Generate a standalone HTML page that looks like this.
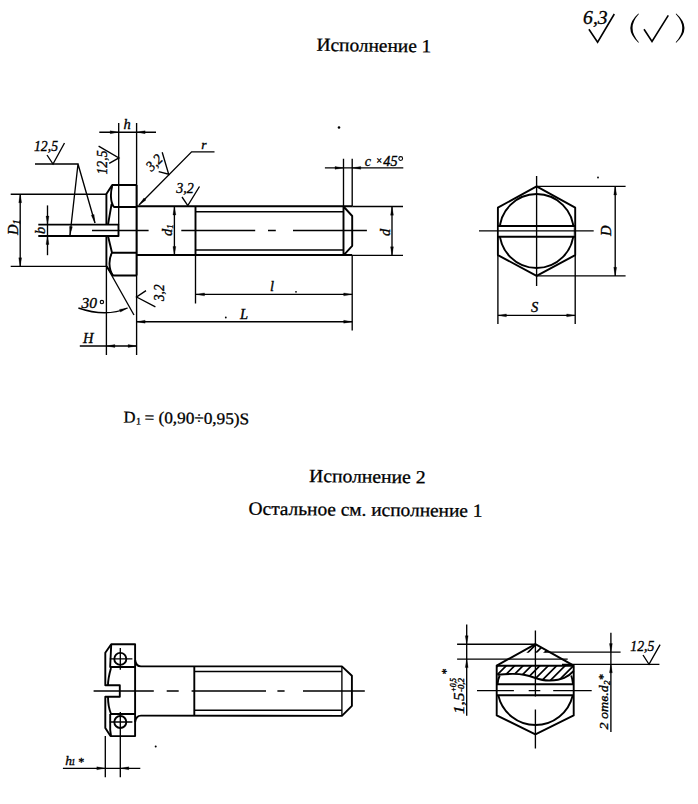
<!DOCTYPE html>
<html><head><meta charset="utf-8">
<style>
html,body{margin:0;padding:0;background:#fff;width:698px;height:804px;overflow:hidden}
svg{display:block}
.k{stroke:#000;fill:none;stroke-width:1.9;stroke-linejoin:round}
.n{stroke:#000;fill:none;stroke-width:1.35}
.h{stroke:#000;fill:none;stroke-width:1.7}
.ar{fill:#000;stroke:#000;stroke-width:0.3}
.tx{font-family:"Liberation Serif",serif;fill:#000;stroke:#000;stroke-width:0.3}
.it{font-family:"Liberation Serif",serif;font-style:italic;fill:#000;stroke:#000;stroke-width:0.35}
</style></head><body>
<svg width="698" height="804" viewBox="0 0 698 804">
<rect width="698" height="804" fill="#fff"/>
<text class="tx" transform="translate(316.5,50.8) rotate(0.8)" font-size="18.5" textLength="114.8" lengthAdjust="spacingAndGlyphs">Исполнение 1</text>
<text class="it" x="583.1" y="23.7" font-size="19" textLength="24.5" lengthAdjust="spacingAndGlyphs">6,3</text>
<path class="n" style="stroke-width:1.6" d="M588.9,29.2 L597.6,42.2 L614.3,14"/>
<path fill="#000" d="M638.4,13.6 Q622.2,28.15 638.4,42.7 L638.9,42.2 Q626.2,28.15 638.9,14.1 Z"/>
<path class="n" style="stroke-width:1.6" d="M644,29.3 L652,41.5 L668.3,15.4"/>
<path fill="#000" d="M676.2,13.6 Q692.8,28.15 676.2,42.7 L675.7,42.2 Q688.8,28.15 675.7,14.1 Z"/>
<text class="it" x="34" y="150.5" font-size="14.5" textLength="24" lengthAdjust="spacingAndGlyphs">12,5</text>
<path class="n" d="M47,155 L53,164 L64.5,143"/>
<path class="n" d="M35,164 L78,164 L70,235 M78,164 L95,223"/>
<path class="ar" d="M70.00,235.00 L69.51,226.39 L72.39,226.72 Z"/>
<path class="ar" d="M95.00,223.00 L91.25,215.23 L94.04,214.43 Z"/>
<path class="n" d="M10.7,194.2 L106.4,194.2 M10.7,266.3 L106.4,266.3 M20.2,194.2 L20.2,266.3"/>
<path class="ar" d="M20.20,194.20 L21.65,202.70 L18.75,202.70 Z"/>
<path class="ar" d="M20.20,266.30 L18.75,257.80 L21.65,257.80 Z"/>
<text class="it" font-size="14.5" transform="translate(18,235) rotate(-90)">D<tspan font-size="10" dy="1.5">1</tspan></text>
<path class="n" d="M47.5,205.4 L47.5,255.2"/>
<path class="ar" d="M47.50,224.60 L46.05,216.10 L48.95,216.10 Z"/>
<path class="ar" d="M47.50,236.00 L48.95,244.50 L46.05,244.50 Z"/>
<text class="it" font-size="14.5" transform="translate(45,234) rotate(-90)">b</text>
<path class="k" d="M38.3,224.6 L118.5,224.6 L118.5,236 L38.3,236"/>
<path class="n" d="M118.7,123 L118.7,224.6 M136.6,123 L136.6,355 M99.3,132.2 L156,132.2"/>
<path class="ar" d="M118.70,132.20 L110.20,133.65 L110.20,130.75 Z"/>
<path class="ar" d="M136.60,132.20 L145.10,130.75 L145.10,133.65 Z"/>
<text class="it" x="123.5" y="129" font-size="14.5">h</text>
<text class="it" font-size="14.5" transform="translate(106.5,174.5) rotate(-90)" textLength="24" lengthAdjust="spacingAndGlyphs">12,5</text>
<path class="n" d="M98.6,146.2 L118.9,157.9 L109.2,163.4"/>
<path class="k" d="M136.6,185 L112.2,185 L106.4,194 L106.4,224.6 M106.4,236 L106.4,266 L112.9,275.5 L136.6,275.5 M136.6,185 L136.6,275.5"/>
<path class="k" d="M112.2,186 C110.5,192 110,202 114,207 L136.6,207 M111.6,204 L108,224.6 M108,236 L112,252.8 L136.6,252.8 M112,252.8 C108.5,259 108.5,269 112.9,275.5"/>
<path class="n" d="M106.4,266 L106.4,355"/>
<path class="n" d="M139,205 L191.6,151.8 L214.5,151.8"/>
<path class="ar" d="M139.00,205.00 L143.95,197.94 L146.01,199.98 Z"/>
<text class="it" x="201.3" y="149.3" font-size="13.5">r</text>
<text class="it" font-size="14.5" transform="translate(151.5,172) rotate(-45)" textLength="17" lengthAdjust="spacingAndGlyphs">3,2</text>
<path class="n" d="M158.7,171.6 L168.7,174.2 L162.2,152.2"/>
<path class="k" d="M136.6,206.2 L352.2,206.2 M136.6,255 L352.2,255"/>
<path class="n" d="M352.2,206.5 L403,206.5 M352.2,255.3 L403,255.3"/>
<path class="k" d="M195.5,206 L195.5,255 M343.5,206.5 L343.5,255.5 M343.5,206.5 L352.2,216 L352.2,245.8 L343.5,255.3"/>
<path class="n" d="M195.5,211.7 L343.5,211.7 M195.5,250 L343.5,250"/>
<circle cx="339" cy="127.5" r="1.3" fill="#000"/>
<circle cx="296" cy="291.8" r="0.9" fill="#000"/><circle cx="225.8" cy="317.5" r="0.9" fill="#000"/><circle cx="598" cy="177.5" r="0.9" fill="#000"/><circle cx="155.7" cy="746.4" r="1" fill="#000"/>
<path class="n" d="M195.5,255 L195.5,303.4 M343.5,158.7 L343.5,206 M352.2,158.7 L352.2,206 M352.2,255 L352.2,330.4"/>
<text class="it" x="176.3" y="193.3" font-size="14.5" textLength="17.5" lengthAdjust="spacingAndGlyphs">3,2</text>
<path class="n" d="M182,197 L187.8,205.6 L199.5,186.5"/>
<path class="n" d="M174.4,206.5 L174.4,255"/>
<path class="ar" d="M174.40,206.50 L175.85,215.00 L172.95,215.00 Z"/>
<path class="ar" d="M174.40,255.00 L172.95,246.50 L175.85,246.50 Z"/>
<text class="it" font-size="14.5" transform="translate(172,236) rotate(-90)">d<tspan font-size="9" dy="1">1</tspan></text>
<path class="n" d="M92,230.5 L148.6,230.5 M181.3,230.5 L255.2,230.5 M268,230.5 L275.8,230.5 M293,230.5 L366.9,230.5"/>
<path class="n" d="M324.9,167.9 L403.3,167.9"/>
<path class="ar" d="M343.50,167.90 L335.00,169.35 L335.00,166.45 Z"/>
<path class="ar" d="M352.20,167.90 L360.70,166.45 L360.70,169.35 Z"/>
<text class="it" x="364.7" y="166" font-size="14">c</text>
<text class="it" x="375.8" y="163.5" font-size="10">×</text>
<text class="it" x="383.3" y="166" font-size="14" textLength="14.2" lengthAdjust="spacingAndGlyphs">45</text>
<circle cx="400.7" cy="158.5" r="1.9" fill="none" stroke="#000" stroke-width="1.05"/>
<path class="n" d="M392,206.7 L392,255.3"/>
<path class="ar" d="M392.00,206.70 L393.45,215.20 L390.55,215.20 Z"/>
<path class="ar" d="M392.00,255.30 L390.55,246.80 L393.45,246.80 Z"/>
<text class="it" font-size="14.5" transform="translate(390,236) rotate(-90)">d</text>
<path class="n" d="M196,294.4 L352.2,294.4 M136.6,321.7 L352.2,321.7"/>
<path class="ar" d="M196.00,294.40 L204.50,292.95 L204.50,295.85 Z"/>
<path class="ar" d="M352.20,294.40 L343.70,295.85 L343.70,292.95 Z"/>
<path class="ar" d="M136.60,321.70 L145.10,320.25 L145.10,323.15 Z"/>
<path class="ar" d="M352.20,321.70 L343.70,323.15 L343.70,320.25 Z"/>
<text class="it" x="270" y="291.4" font-size="14.5">l</text>
<text class="it" x="240" y="319.3" font-size="14.5">L</text>
<path class="n" d="M106.4,266 L134,315"/>
<path class="n" d="M78.4,308 Q106,317.6 127.5,308"/>
<path class="ar" d="M127.50,308.00 L120.48,312.08 L119.51,309.45 Z"/>
<text class="it" x="81.4" y="308.3" font-size="15.5" textLength="15.5" lengthAdjust="spacingAndGlyphs">30</text>
<circle cx="101.9" cy="302.1" r="1.7" fill="none" stroke="#000" stroke-width="1.1"/>
<path class="n" d="M146,290.6 L136.6,297 L155.4,306.8"/>
<text class="it" font-size="14.5" transform="translate(163.8,301) rotate(-90)" textLength="16.5" lengthAdjust="spacingAndGlyphs">3,2</text>
<path class="n" d="M79.8,346 L136.6,346"/>
<path class="ar" d="M106.40,346.00 L114.90,344.55 L114.90,347.45 Z"/>
<path class="ar" d="M136.60,346.00 L128.10,347.45 L128.10,344.55 Z"/>
<text class="it" x="83" y="343.2" font-size="14.5">H</text>
<path class="k" d="M536.6,186.4 L575.2,207.7 L575.2,255.1 L536.6,275.8 L497.9,255.1 L497.9,207.7 Z"/>
<circle class="k" cx="536.6" cy="231" r="37"/>
<rect x="498.8" y="226" width="75" height="10.8" fill="#fff"/>
<path class="k" d="M497.9,226 L575.2,226 M497.9,236.8 L575.2,236.8"/>
<path class="n" d="M479,230.8 L593.7,230.8 M536.6,176 L536.6,286"/>
<path class="n" d="M497.9,255 L497.9,323.9 M575.2,255 L575.2,323.9 M497.9,315.4 L575.2,315.4"/>
<path class="ar" d="M497.90,315.40 L506.40,313.95 L506.40,316.85 Z"/>
<path class="ar" d="M575.20,315.40 L566.70,316.85 L566.70,313.95 Z"/>
<path class="n" d="M536.6,186.4 L625.6,186.4 M536.6,275.8 L625.6,275.8 M615.2,186.4 L615.2,275.8"/>
<path class="ar" d="M615.20,186.40 L616.65,194.90 L613.75,194.90 Z"/>
<path class="ar" d="M615.20,275.80 L613.75,267.30 L616.65,267.30 Z"/>
<text class="it" x="531" y="312.4" font-size="14.5">S</text>
<text class="it" font-size="14.5" transform="translate(611,236) rotate(-90)">D</text>
<g transform="translate(123.5,422.6) rotate(0.8)">
<text class="tx" x="0" y="0" font-size="16.5">D</text>
<text class="tx" x="12.6" y="1.6" font-size="10">1</text>
<text class="tx" x="21" y="0" font-size="16.5" textLength="104.5" lengthAdjust="spacingAndGlyphs">= (0,90÷0,95)S</text>
</g>
<text class="tx" transform="translate(309,481.9) rotate(0.7)" font-size="18.5" textLength="116.5" lengthAdjust="spacingAndGlyphs">Исполнение 2</text>
<text class="tx" transform="translate(248.6,514.6) rotate(0.57)" font-size="18.5" textLength="233.8" lengthAdjust="spacingAndGlyphs">Остальное см. исполнение 1</text>
<path class="k" d="M135.1,644.3 L111.2,644.3 L105.3,652.8 L105.3,685.3 L119.8,685.3 L119.8,696.8 L105.3,696.8 L105.3,728 L110.5,736.1 L135.1,736.1 Z"/>
<path class="k" d="M111.2,645 L110.2,665.7 L110.2,667 L135.1,667 M111,668 C109,675 108,680 108,685.3 M108,696.8 C108,703 109,709 111,714 L135.1,714 M110.2,714 L110.2,730 L111,736"/>
<circle class="k" cx="120.3" cy="658.9" r="6"/>
<circle class="k" cx="120.3" cy="722" r="6"/>
<path class="n" d="M109.8,658.9 L132.4,658.9 M120.3,648 L120.3,669.8 M109.8,722 L132.4,722 M120.3,712 L120.3,777.3 M105.3,736 L105.3,777.3"/>
<path class="k" d="M135.1,660 Q136,666.4 141,666.4 L341.9,666.4 L351.9,675.8 L351.9,705.9 L341.9,715.9 L141,715.6 Q136,715.6 135.1,722"/>
<path class="k" d="M194.3,666 L194.3,715.9"/>
<path class="n" d="M194.3,671.5 L341.9,671.5 M194.3,710.2 L341.9,710.2"/>
<path class="n" d="M341.9,666 L341.9,716"/>
<path class="n" d="M93.6,691 L153.8,691 M166.7,691 L178.7,691 M191.6,691 L266,691 M277.4,691 L284.6,691 M303,691 L364.8,691"/>
<path class="n" d="M62.9,768.3 L140.3,768.3"/>
<path class="ar" d="M105.30,768.30 L96.80,769.75 L96.80,766.85 Z"/>
<path class="ar" d="M120.30,768.30 L128.80,766.85 L128.80,769.75 Z"/>
<text class="it" x="65.3" y="764.8" font-size="13.5">h</text>
<text class="it" x="71.3" y="764.5" font-size="8">1</text>
<text class="it" x="77.8" y="765.5" font-size="12">*</text>
<path class="k" d="M535.4,644.1 L573.7,665.6 L573.7,715.4 L535.4,734.3 L496.7,715.4 L496.7,665.6 Z"/>
<clipPath id="hc1"><path d="M496.7,665.6 L573.7,665.6 L573.7,671 C568,677 562,680 550,680.5 C540,681 535,677 525,675 C518,673.5 510,673.5 497.7,674.8 L496.7,674.8 Z"/></clipPath>
<clipPath id="hc2"><path d="M535.4,644.1 L551,652.8 L520,652.8 Z"/></clipPath>
<path class="h" clip-path="url(#hc1)" d="M220.0,700 L280.0,640 M228.4,700 L288.4,640 M236.8,700 L296.8,640 M245.2,700 L305.2,640 M253.6,700 L313.6,640 M262.0,700 L322.0,640 M270.4,700 L330.4,640 M278.8,700 L338.8,640 M287.2,700 L347.2,640 M295.6,700 L355.6,640 M304.0,700 L364.0,640 M312.4,700 L372.4,640 M320.8,700 L380.8,640 M329.2,700 L389.2,640 M337.6,700 L397.6,640 M346.0,700 L406.0,640 M354.4,700 L414.4,640 M362.8,700 L422.8,640 M371.2,700 L431.2,640 M379.6,700 L439.6,640 M388.0,700 L448.0,640 M396.4,700 L456.4,640 M404.8,700 L464.8,640 M413.2,700 L473.2,640 M421.6,700 L481.6,640 M430.0,700 L490.0,640 M438.4,700 L498.4,640 M446.8,700 L506.8,640 M455.2,700 L515.2,640 M463.6,700 L523.6,640 M472.0,700 L532.0,640 M480.4,700 L540.4,640 M488.8,700 L548.8,640 M497.2,700 L557.2,640 M505.6,700 L565.6,640 M514.0,700 L574.0,640 M522.4,700 L582.4,640 M530.8,700 L590.8,640 M539.2,700 L599.2,640 M547.6,700 L607.6,640 M556.0,700 L616.0,640 M564.4,700 L624.4,640 M572.8,700 L632.8,640 M581.2,700 L641.2,640 M589.6,700 L649.6,640 M598.0,700 L658.0,640 M606.4,700 L666.4,640 M614.8,700 L674.8,640 M623.2,700 L683.2,640 M631.6,700 L691.6,640 M640.0,700 L700.0,640 M648.4,700 L708.4,640 M656.8,700 L716.8,640 M665.2,700 L725.2,640 M673.6,700 L733.6,640 M682.0,700 L742.0,640 M690.4,700 L750.4,640 M698.8,700 L758.8,640 M707.2,700 L767.2,640 M715.6,700 L775.6,640"/>
<path class="h" clip-path="url(#hc2)" d="M220.0,700 L280.0,640 M228.4,700 L288.4,640 M236.8,700 L296.8,640 M245.2,700 L305.2,640 M253.6,700 L313.6,640 M262.0,700 L322.0,640 M270.4,700 L330.4,640 M278.8,700 L338.8,640 M287.2,700 L347.2,640 M295.6,700 L355.6,640 M304.0,700 L364.0,640 M312.4,700 L372.4,640 M320.8,700 L380.8,640 M329.2,700 L389.2,640 M337.6,700 L397.6,640 M346.0,700 L406.0,640 M354.4,700 L414.4,640 M362.8,700 L422.8,640 M371.2,700 L431.2,640 M379.6,700 L439.6,640 M388.0,700 L448.0,640 M396.4,700 L456.4,640 M404.8,700 L464.8,640 M413.2,700 L473.2,640 M421.6,700 L481.6,640 M430.0,700 L490.0,640 M438.4,700 L498.4,640 M446.8,700 L506.8,640 M455.2,700 L515.2,640 M463.6,700 L523.6,640 M472.0,700 L532.0,640 M480.4,700 L540.4,640 M488.8,700 L548.8,640 M497.2,700 L557.2,640 M505.6,700 L565.6,640 M514.0,700 L574.0,640 M522.4,700 L582.4,640 M530.8,700 L590.8,640 M539.2,700 L599.2,640 M547.6,700 L607.6,640 M556.0,700 L616.0,640 M564.4,700 L624.4,640 M572.8,700 L632.8,640 M581.2,700 L641.2,640 M589.6,700 L649.6,640 M598.0,700 L658.0,640 M606.4,700 L666.4,640 M614.8,700 L674.8,640 M623.2,700 L683.2,640 M631.6,700 L691.6,640 M640.0,700 L700.0,640 M648.4,700 L708.4,640 M656.8,700 L716.8,640 M665.2,700 L725.2,640 M673.6,700 L733.6,640 M682.0,700 L742.0,640 M690.4,700 L750.4,640 M698.8,700 L758.8,640 M707.2,700 L767.2,640 M715.6,700 L775.6,640"/>
<path class="k" d="M497.7,674.8 C510,673.5 518,673.5 525,675 C535,677 540,681 550,680.5 C562,680 568,677 573.7,671"/>
<path class="k" d="M496.7,665.7 L573.7,665.7"/>
<path class="k" d="M499.7,675.5 Q498,679 497.6,684 M571.2,675.5 Q572.6,679 573,684"/>
<path class="k" d="M498.3,695.5 A38.2,38.2 0 0 0 572.7,695.5"/>
<path class="k" d="M496.7,684.2 L573.7,684.2 M496.7,695.3 L573.7,695.3"/>
<path class="n" d="M457.1,644.2 L535.4,644.2 M457.1,659.1 L567.7,659.1 M545.3,652.1 L620.6,652.1 M562,664.3 L659.4,664.3"/>
<path class="n" d="M535.4,630.5 L535.4,696.5 M535.4,709.4 L535.4,748.6"/>
<path class="n" d="M477,690.6 L513.9,690.6 M528.7,690.6 L540.3,690.6 M553.2,690.6 L591.7,690.6"/>
<path class="n" d="M466.7,624.6 L466.7,715.7 M610.9,632.7 L610.9,732"/>
<path class="ar" d="M466.70,644.20 L465.25,635.70 L468.15,635.70 Z"/>
<path class="ar" d="M466.70,659.10 L468.15,667.60 L465.25,667.60 Z"/>
<path class="ar" d="M610.90,652.10 L609.45,643.60 L612.35,643.60 Z"/>
<path class="ar" d="M610.90,664.30 L612.35,672.80 L609.45,672.80 Z"/>
<text class="it" font-size="15" transform="translate(463.5,714) rotate(-90)" textLength="21.5" lengthAdjust="spacingAndGlyphs">1,5</text>
<text class="it" font-size="7.5" transform="translate(455.5,692) rotate(-90)" textLength="14" lengthAdjust="spacingAndGlyphs">+0,5</text>
<text class="it" font-size="7.5" transform="translate(463.5,692) rotate(-90)" textLength="14" lengthAdjust="spacingAndGlyphs">-0,2</text>
<text class="it" font-size="12" transform="translate(450,675) rotate(-90)">*</text>
<text class="it" font-size="13" transform="translate(608.3,729.5) rotate(-90)" textLength="49" lengthAdjust="spacingAndGlyphs">2 отв.d<tspan font-size="8.5" dy="1.5">2</tspan></text>
<text class="it" font-size="12" transform="translate(606.5,680.5) rotate(-90)">*</text>
<text class="it" x="630.3" y="650.6" font-size="14.5" textLength="24" lengthAdjust="spacingAndGlyphs">12,5</text>
<path class="n" d="M643,655 L649,664.3 L660.1,644.6"/>
</svg></body></html>
